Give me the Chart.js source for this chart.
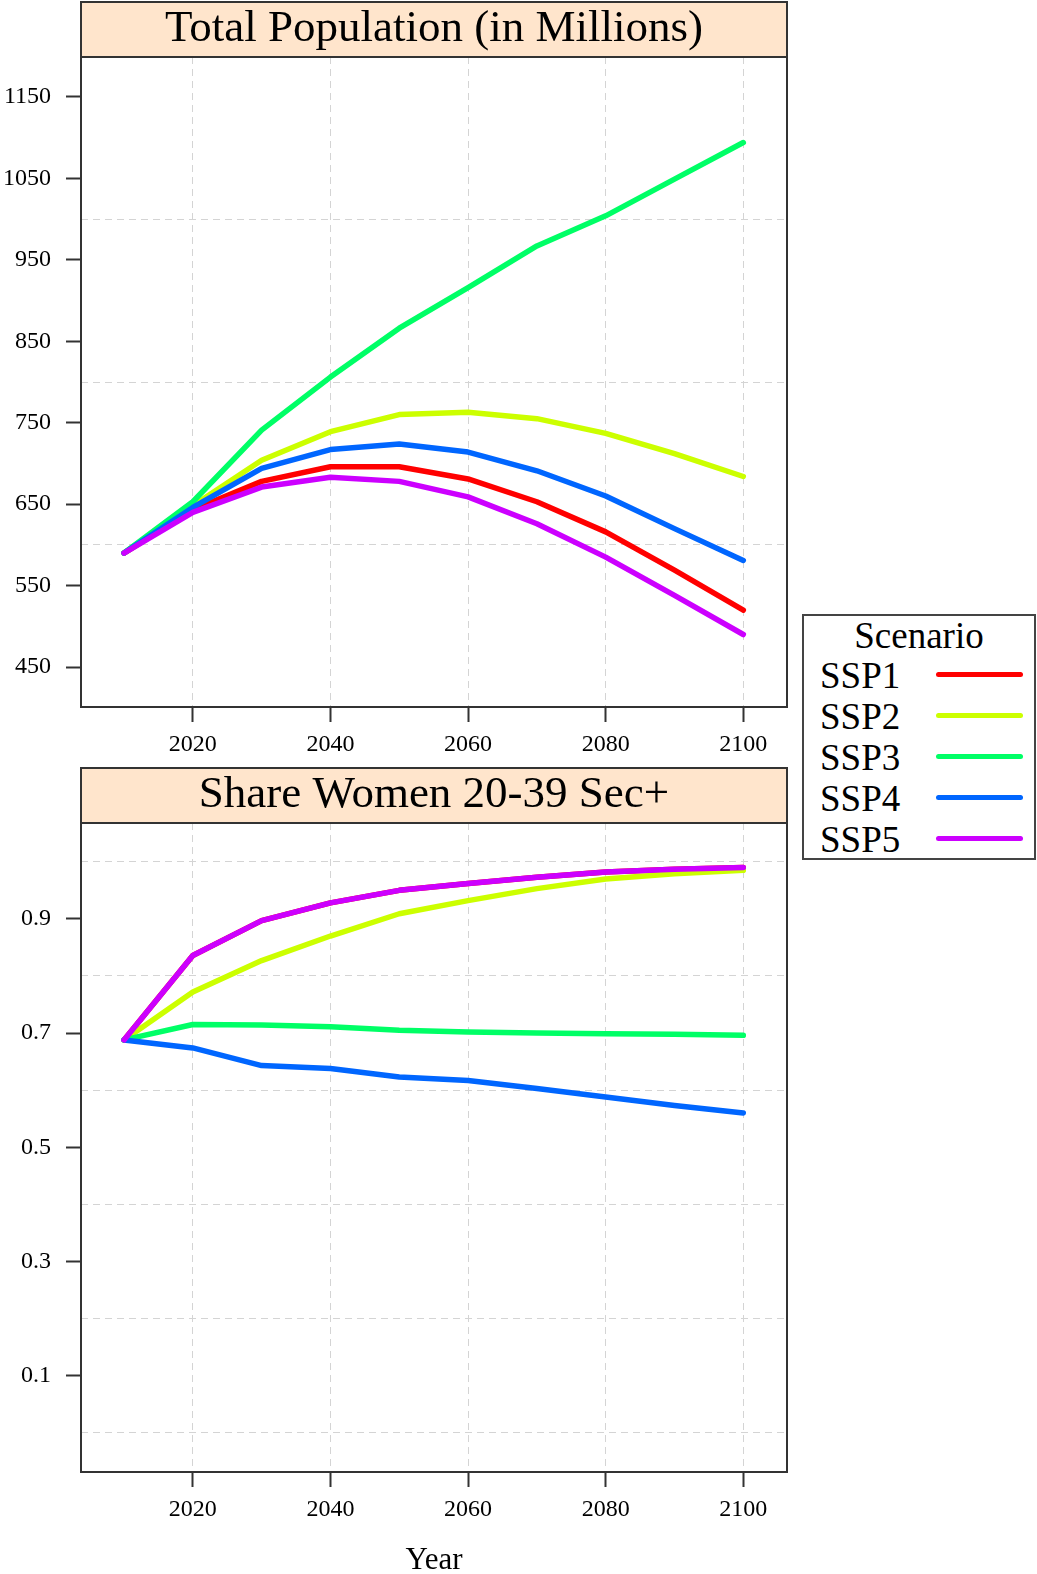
<!DOCTYPE html>
<html><head><meta charset="utf-8">
<script src="https://cdn.jsdelivr.net/npm/chart.js@4.4.1/dist/chart.umd.min.js"></script>
<style>
html,body{margin:0;padding:0;background:#fff;width:1037px;height:1574px;overflow:hidden;font-family:"Liberation Serif","Times New Roman",serif;}
canvas{position:absolute;left:0;}
#c1{top:0}
#c2{top:766px}
#legend{position:absolute;left:802px;top:614px;width:230px;height:242px;border:2px solid #444;background:#fff;}
.lt{position:absolute;font-size:37px;line-height:37px;color:#000;white-space:nowrap;font-family:"Liberation Serif",serif;}
.ll{position:absolute;height:5px;border-radius:3px;}
</style></head><body>
<canvas id="c1" width="800" height="765"></canvas>
<canvas id="c2" width="800" height="810"></canvas>
<div id="legend"></div>
<script>
const FONT = '"Liberation Serif", "Times New Roman", serif';
const years = [2010, 2020, 2030, 2040, 2050, 2060, 2070, 2080, 2090, 2100];
const scenarios = ['SSP1', 'SSP2', 'SSP3', 'SSP4', 'SSP5'];
const colors = ['#FF0000', '#CCFF00', '#00FF66', '#0066FF', '#CC00FF'];
const xTicks = [2020, 2040, 2060, 2080, 2100];

// Total Population (in Millions)
const popSSP1 = [590, 643, 678, 696, 696, 681, 653, 616, 569, 520];
const popSSP2 = [590, 648, 704, 739, 760, 763, 755, 737, 712, 684];
const popSSP3 = [590, 653, 741, 806, 866, 916, 967, 1004, 1049, 1094];
const popSSP4 = [590, 646, 694, 717, 724, 714, 691, 660, 620, 581];
const popSSP5 = [590, 640, 671, 683, 678, 659, 626, 585, 538, 490];
const popTicks = [450, 550, 650, 750, 850, 950, 1050, 1150];
const popGrid = [600, 800, 1000];

// Share Women 20-39 Sec+
const shrSSP1 = [0.688, 0.836, 0.897, 0.928, 0.950, 0.962, 0.973, 0.982, 0.987, 0.990];
const shrSSP2 = [0.688, 0.772, 0.827, 0.870, 0.909, 0.932, 0.953, 0.970, 0.979, 0.985];
const shrSSP3 = [0.688, 0.715, 0.714, 0.711, 0.705, 0.702, 0.700, 0.699, 0.698, 0.696];
const shrSSP4 = [0.688, 0.674, 0.643, 0.638, 0.623, 0.617, 0.603, 0.588, 0.573, 0.560];
const shrSSP5 = [0.688, 0.836, 0.897, 0.928, 0.950, 0.962, 0.973, 0.982, 0.987, 0.990];
const shrTicks = [0.1, 0.3, 0.5, 0.7, 0.9];
const shrGrid = [0.0, 0.2, 0.4, 0.6, 0.8, 1.0];

const X_MIN = 2003.75, X_MAX = 2106.35;
const STRIP_TOP = 2;

const panelPlugin = {
  id: 'panel',
  beforeDraw(chart) {
    const {ctx, chartArea: a} = chart;
    ctx.save();
    ctx.fillStyle = '#FFE5CC';
    ctx.fillRect(a.left, STRIP_TOP, a.right - a.left, a.top - STRIP_TOP);
    ctx.restore();
  },
  afterDraw(chart) {
    const {ctx, chartArea: a} = chart;
    ctx.save();
    ctx.strokeStyle = '#333';
    ctx.lineWidth = 2;
    ctx.strokeRect(a.left, STRIP_TOP, a.right - a.left, a.bottom - STRIP_TOP);
    ctx.beginPath();
    ctx.moveTo(a.left, a.top);
    ctx.lineTo(a.right, a.top);
    ctx.stroke();
    ctx.restore();
  }
};

function makeChart(id, title, series, yMin, yMax, yTicks, yGrid, xTitle, xAxisHeight) {
  const gridCol = '#d4d4d4';
  return new Chart(document.getElementById(id), {
    type: 'line',
    data: {
      datasets: scenarios.map((s, i) => ({
        label: s,
        data: years.map((yr, j) => ({x: yr, y: series[i][j]})),
        borderColor: colors[i],
        backgroundColor: colors[i],
        borderWidth: 5.5,
        pointRadius: 0,
        tension: 0,
        fill: false,
        borderCapStyle: 'round',
        borderJoinStyle: 'round',
        xAxisID: 'x',
        yAxisID: 'y',
        order: scenarios.length - i
      }))
    },
    options: {
      responsive: false,
      animation: false,
      devicePixelRatio: 1,
      layout: {padding: {top: STRIP_TOP, left: 0, right: 13, bottom: 0}},
      plugins: {
        legend: {display: false},
        tooltip: {enabled: false},
        title: {
          display: true, text: title, fullSize: false, color: '#000',
          font: {family: FONT, size: 45, weight: 'normal', lineHeight: 55 / 45},
          padding: 0
        }
      },
      scales: {
        x: {
          type: 'linear', position: 'bottom', axis: 'x', min: X_MIN, max: X_MAX,
          afterBuildTicks: sc => { sc.ticks = xTicks.map(v => ({value: v})); },
          afterFit: sc => { sc.height = xAxisHeight; },
          grid: {drawOnChartArea: false, drawTicks: true, tickLength: 15, tickColor: '#333', tickWidth: 2},
          border: {display: false},
          ticks: {color: '#000', font: {family: FONT, size: 24}, padding: 8, autoSkip: false, maxRotation: 0, minRotation: 0, callback: v => String(v)},
          title: xTitle ? {display: true, text: xTitle, color: '#000', font: {family: FONT, size: 31, lineHeight: 1}, padding: {top: 0, bottom: 0}} : {display: false}
        },
        xg: {
          type: 'linear', position: 'bottom', axis: 'x', min: X_MIN, max: X_MAX,
          afterBuildTicks: sc => { sc.ticks = xTicks.map(v => ({value: v})); },
          afterFit: sc => { sc.height = 0; },
          grid: {drawOnChartArea: true, drawTicks: false, color: gridCol, lineWidth: 1},
          border: {display: false, dash: [7, 5]},
          ticks: {display: false}
        },
        y: {
          type: 'linear', position: 'left', axis: 'y', min: yMin, max: yMax,
          afterBuildTicks: sc => { sc.ticks = yTicks.map(v => ({value: v})); },
          afterFit: sc => { sc.width = 81; },
          grid: {drawOnChartArea: false, drawTicks: true, tickLength: 15, tickColor: '#333', tickWidth: 2},
          border: {display: false},
          ticks: {color: '#000', font: {family: FONT, size: 24}, padding: 15, autoSkip: false, callback: v => String(v)}
        },
        yg: {
          type: 'linear', position: 'left', axis: 'y', min: yMin, max: yMax,
          afterBuildTicks: sc => { sc.ticks = yGrid.map(v => ({value: v})); },
          afterFit: sc => { sc.width = 0; },
          grid: {drawOnChartArea: true, drawTicks: false, color: gridCol, lineWidth: 1},
          border: {display: false, dash: [7, 5]},
          ticks: {display: false}
        }
      }
    },
    plugins: [panelPlugin]
  });
}

makeChart('c1', 'Total Population (in Millions)',
  [popSSP1, popSSP2, popSSP3, popSSP4, popSSP5], 401, 1199, popTicks, popGrid, null, 58);
makeChart('c2', 'Share Women 20-39 Sec+',
  [shrSSP1, shrSSP2, shrSSP3, shrSSP4, shrSSP5], -0.069, 1.068, shrTicks, shrGrid, 'Year', 104);

// Legend (HTML, real text)
const lg = document.getElementById('legend');
const ttl = document.createElement('div');
ttl.className = 'lt';
ttl.style.left = '0px'; ttl.style.width = '230px'; ttl.style.textAlign = 'center';
ttl.style.top = '1.2px';
ttl.textContent = 'Scenario';
lg.appendChild(ttl);
scenarios.forEach((s, i) => {
  const t = document.createElement('div');
  t.className = 'lt';
  t.style.left = '16px';
  t.style.top = (41.2 + i * 40.9) + 'px';
  t.textContent = s;
  lg.appendChild(t);
  const l = document.createElement('div');
  l.className = 'll';
  l.style.left = '132px';
  l.style.width = '87px';
  l.style.top = (55.5 + i * 41.2) + 'px';
  l.style.background = colors[i];
  lg.appendChild(l);
});
</script>
</body></html>
